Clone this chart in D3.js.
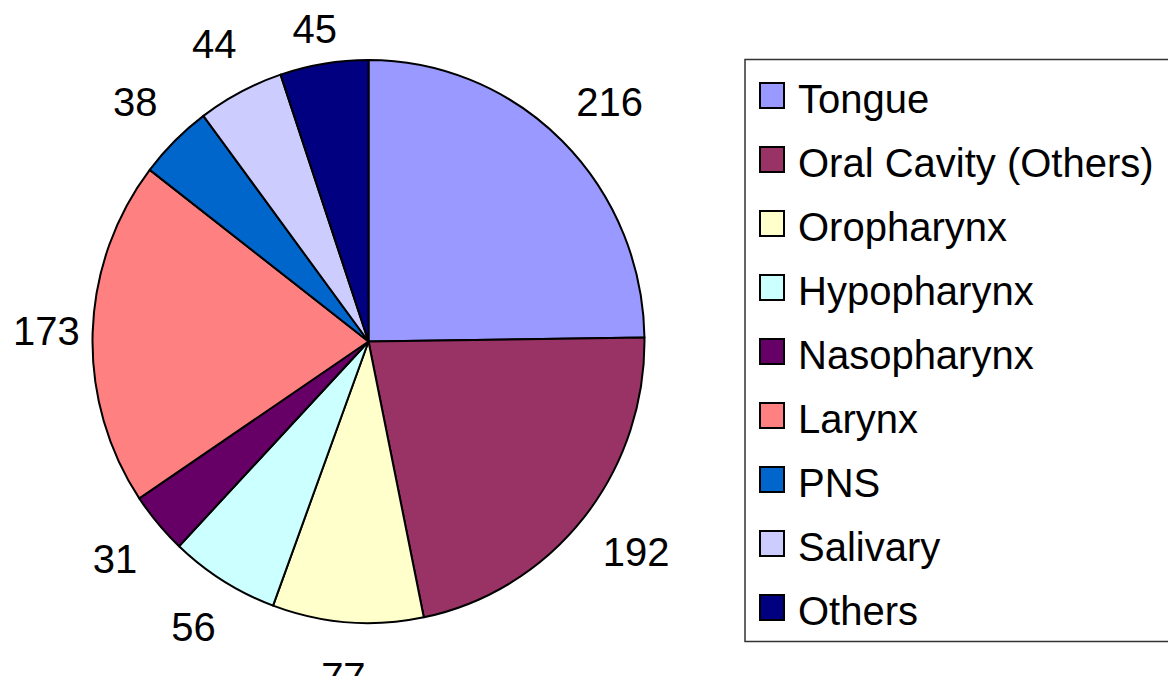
<!DOCTYPE html>
<html>
<head>
<meta charset="utf-8">
<script src="https://cdn.jsdelivr.net/npm/d3@7"></script>
<style>
  body { margin: 0; background: #fff; }
  text { font-family: Arial, "Liberation Sans", sans-serif; fill: #000; }
</style>
</head>
<body>
<div id="chart-area"></div>
<script>
// Data
const categories = ["Tongue", "Oral Cavity (Others)", "Oropharynx", "Hypopharynx",
  "Nasopharynx", "Larynx", "PNS", "Salivary", "Others"];
const counts = [216, 192, 77, 56, 31, 173, 38, 44, 45];
const sliceColors = ["#9999FF", "#993366", "#FFFFCC", "#CCFFFF",
  "#660066", "#FF8080", "#0066CC", "#CCCCFF", "#000080"];

(function () {
  const width = 1176;
  const height = 676;
  const cx = 368.5, cy = 341.5;   // pie centre
  const radius = 276;
  const squash = 1.02;            // pie is a touch taller than wide
  const fontSize = 40;

  const svg = d3.select("#chart-area")
    .append("svg")
    .attr("width", width)
    .attr("height", height);

  const color = d3.scaleOrdinal().domain(categories).range(sliceColors);

  const pie = d3.pie().sort(null).value(d => d.value);
  const arcs = pie(categories.map((c, i) => ({ name: c, value: counts[i] })));

  const arc = d3.arc().innerRadius(0).outerRadius(radius);

  // Slices
  const g = svg.append("g")
    .attr("transform", `translate(${cx},${cy}) scale(1,${squash})`);

  g.selectAll("path")
    .data(arcs)
    .join("path")
    .attr("d", arc)
    .attr("fill", d => color(d.data.name))
    .attr("stroke", "#000")
    .attr("stroke-width", 2)
    .attr("stroke-linejoin", "round")
    .attr("vector-effect", "non-scaling-stroke");

  // Value labels outside the pie, kept inside the chart area (left/top)
  const labelR = 310;
  const halfBox = 20;
  const halfCap = 14;
  const minLeft = 13, minTop = 15;
  svg.append("g")
    .selectAll("text")
    .data(arcs)
    .join("text")
    .attr("font-size", fontSize)
    .attr("text-anchor", "middle")
    .text(d => d.data.value)
    .each(function (d) {
      const a = (d.startAngle + d.endAngle) / 2;
      const s = Math.sin(a), c = Math.cos(a);
      const hw = this.getComputedTextLength() / 2;
      let x = cx + s * (labelR + hw);
      let y = cy - c * (labelR * squash + halfBox);
      if (x - hw < minLeft) x = minLeft + hw;
      if (y - halfCap < minTop) y = minTop + halfCap;
      d3.select(this).attr("x", x).attr("y", y + halfCap);
    });

  // Legend
  const legend = svg.append("g");
  const lx = 745, ly = 59.5, lw = 423, lh = 582;
  legend.append("path")
    .attr("d", `M${lx + lw},${ly}H${lx}V${ly + lh}H${lx + lw}`)
    .attr("fill", "none")
    .attr("stroke", "#333")
    .attr("stroke-width", 1.5);

  const rowY = d3.scalePoint().domain(categories).range([113, 625]);

  const rows = legend.selectAll("g.row")
    .data(categories)
    .join("g")
    .attr("class", "row")
    .attr("transform", d => `translate(0,${rowY(d)})`);

  rows.append("rect")
    .attr("x", 760)
    .attr("y", -30)
    .attr("width", 24)
    .attr("height", 25)
    .attr("fill", d => color(d))
    .attr("stroke", "#000")
    .attr("stroke-width", 2);

  rows.append("text")
    .attr("x", 798)
    .attr("y", 0)
    .attr("font-size", fontSize)
    .text(d => d);
})();
</script>
</body>
</html>
